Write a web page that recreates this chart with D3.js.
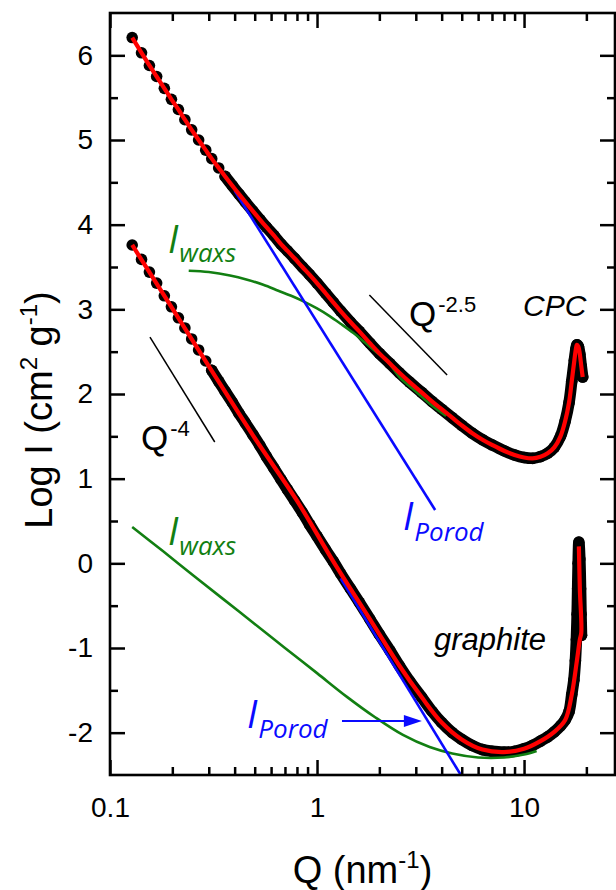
<!DOCTYPE html>
<html><head><meta charset="utf-8">
<script src="https://cdn.jsdelivr.net/npm/d3@7/dist/d3.min.js"></script>
<style>body{margin:0;background:#fff;} svg{display:block;}</style>
</head><body>
<svg id="chart" width="616" height="890"></svg>
<script>
// ---------- data (Q in nm^-1, log10 I) ----------
const cpcQ    = [0.128,0.142,0.155,0.168,0.183,0.198,0.214,0.230,0.248,0.268,0.29,0.31,0.335,0.36,0.39,0.42,0.45,0.49,0.53,0.57,0.62,0.67,0.72,0.78,0.85,0.92,1.0,1.1,1.2,1.3,1.45,1.6,1.8,2.0,2.25,2.5,2.8,3.2,3.6,4.0,4.5,5.0,5.6,6.3,7.0,8.0,9.0,10.0,11.0,12.0,13.0,14.0,15.0,15.8,16.5,17.0,17.5,17.8,18.0,18.3,18.6,18.9,19.2];
const cpcLogI = [6.21,6.03,5.88,5.75,5.61,5.48,5.36,5.24,5.12,5.00,4.88,4.78,4.67,4.57,4.46,4.36,4.27,4.16,4.06,3.97,3.87,3.77,3.69,3.60,3.50,3.41,3.31,3.19,3.08,2.98,2.85,2.74,2.60,2.48,2.36,2.25,2.14,2.02,1.91,1.82,1.72,1.63,1.54,1.46,1.40,1.33,1.28,1.25,1.24,1.26,1.30,1.37,1.50,1.68,1.90,2.15,2.40,2.53,2.58,2.56,2.47,2.33,2.20];

const graQ    = [0.128,0.142,0.155,0.168,0.183,0.198,0.214,0.230,0.248,0.268,0.29,0.31,0.335,0.36,0.39,0.42,0.45,0.49,0.53,0.57,0.62,0.67,0.72,0.78,0.85,0.92,1.0,1.1,1.2,1.3,1.45,1.6,1.8,2.0,2.25,2.5,2.8,3.2,3.6,4.0,4.5,5.0,5.6,6.3,7.0,8.0,9.0,10.0,11.0,12.0,13.0,14.0,15.0,15.8,16.5,17.0,17.4,17.7,17.9,18.05,18.15,18.25,18.4,18.6,18.75,18.85,18.95];
const graLogI = [3.76,3.59,3.44,3.31,3.16,3.03,2.90,2.78,2.65,2.52,2.39,2.28,2.15,2.03,1.90,1.77,1.66,1.52,1.39,1.26,1.12,0.99,0.87,0.74,0.60,0.46,0.32,0.16,0.02,-0.12,-0.30,-0.46,-0.66,-0.84,-1.03,-1.21,-1.39,-1.58,-1.75,-1.88,-2.00,-2.08,-2.15,-2.20,-2.22,-2.23,-2.22,-2.19,-2.15,-2.10,-2.05,-1.99,-1.92,-1.85,-1.75,-1.55,-1.38,-1.15,-0.90,-0.60,-0.30,0.00,0.25,0.05,-0.30,-0.60,-0.85];

const graFitQ    = [0.128,0.2,0.3,0.5,0.8,1.2,1.8,2.5,3.2,4.0,5.0,6.3,8.0,10.0,12.0,14.0,15.8,17.0,18.0,18.6,18.9,18.6,18.4];
const graFitLogI = [3.76,3.01,2.33,1.48,0.74,0.02,-0.66,-1.21,-1.58,-1.88,-2.08,-2.20,-2.23,-2.19,-2.10,-1.99,-1.85,-1.55,-1.15,-0.90,-0.82,-0.30,0.20];

const cpcWaxsQ    = [0.24,0.30,0.38,0.46,0.55,0.65,0.75,0.85,1.0,1.15,1.3,1.5,1.7,1.9,2.2,2.5,3.0,3.6,4.2];
const cpcWaxsLogI = [3.455,3.44,3.40,3.35,3.29,3.22,3.16,3.10,3.01,2.92,2.83,2.72,2.61,2.51,2.38,2.20,2.03,1.86,1.74];

const graWaxsQ    = [0.128,0.18,0.25,0.35,0.5,0.7,1.0,1.4,1.9,2.6,3.5,4.5,6.0,8.0,10.0,11.5];
const graWaxsLogI = [0.43,0.145,-0.135,-0.417,-0.716,-0.999,-1.297,-1.58,-1.815,-2.027,-2.17,-2.246,-2.293,-2.293,-2.258,-2.216];

const cpcPorodQ    = [0.40, 3.72];
const cpcPorodLogI = [4.40, 0.63];
const graPorodQ    = [1.3, 4.95];
const graPorodLogI = [-0.177, -2.5];

const guide25Q = [1.79, 4.25],  guide25LogI = [3.17, 2.225];
const guide4Q  = [0.156, 0.3206], guide4LogI = [2.673, 1.433];
const arrowQ = [1.32, 3.21], arrowLogI = [-1.862, -1.862];

const xMajor = [0.1, 1, 10];
const xMajorLabels = ["0.1", "1", "10"];
const xMinor = [0.2,0.3,0.4,0.5,0.6,0.7,0.8,0.9,2,3,4,5,6,7,8,9,20];
const yMajor = [-2,-1,0,1,2,3,4,5,6];
const yMajorLabels = ["-2","-1","0","1","2","3","4","5","6"];
const yMinor = [-1.5,-0.5,0.5,1.5,2.5,3.5,4.5,5.5];

// ---------- drawing ----------
const svg = d3.select("#chart");
const L = 110, R = 615, T = 13, B = 775;
const x = d3.scaleLog().domain([0.1, 27.5]).range([L, R]);
const y = d3.scaleLinear().domain([-2.5, 6.5]).range([B, T]);

const RED = "#ff0000", BLUE = "#0a0aff", GREEN = "#127f12";
const pts = (qs, ls) => qs.map((q, i) => [q, ls[i]]);
const line = d3.line().x(d => x(d[0])).y(d => y(d[1]));
const smooth = d3.line().x(d => x(d[0])).y(d => y(d[1])).curve(d3.curveCatmullRom.alpha(0.5));

svg.append("clipPath").attr("id", "clip").append("rect")
  .attr("x", L).attr("y", T).attr("width", R - L).attr("height", B - T);
const plot = svg.append("g").attr("clip-path", "url(#clip)");

function dataSeries(qs, ls, denseFrom) {
  const p = pts(qs, ls);
  plot.append("path").datum(p.filter(d => d[0] >= denseFrom))
    .attr("d", smooth).attr("fill", "none").attr("stroke", "#000")
    .attr("stroke-width", 11.5).attr("stroke-linejoin", "round").attr("stroke-linecap", "round");
  plot.append("g").selectAll("circle").data(p).join("circle")
    .attr("cx", d => x(d[0])).attr("cy", d => y(d[1])).attr("r", 5.8).attr("fill", "#000");
}
dataSeries(cpcQ, cpcLogI, 0.36);
dataSeries(graQ, graLogI, 0.31);

// model components
plot.append("path").datum(pts(cpcWaxsQ, cpcWaxsLogI)).attr("d", smooth)
  .attr("fill", "none").attr("stroke", GREEN).attr("stroke-width", 2.6);
plot.append("path").datum(pts(graWaxsQ, graWaxsLogI)).attr("d", smooth)
  .attr("fill", "none").attr("stroke", GREEN).attr("stroke-width", 2.6);
plot.append("path").datum(pts(cpcPorodQ, cpcPorodLogI)).attr("d", line)
  .attr("fill", "none").attr("stroke", BLUE).attr("stroke-width", 2.6);
plot.append("path").datum(pts(graPorodQ, graPorodLogI)).attr("d", line)
  .attr("fill", "none").attr("stroke", BLUE).attr("stroke-width", 2.6);

// fits
plot.append("path").datum(pts(cpcQ, cpcLogI)).attr("d", smooth)
  .attr("fill", "none").attr("stroke", RED).attr("stroke-width", 4.2).attr("stroke-linejoin", "round");
plot.append("path").datum(pts(graFitQ, graFitLogI)).attr("d", smooth)
  .attr("fill", "none").attr("stroke", RED).attr("stroke-width", 4.2).attr("stroke-linejoin", "round");

// guide lines
[[guide25Q, guide25LogI], [guide4Q, guide4LogI]].forEach(([q, l]) => {
  plot.append("path").datum(pts(q, l)).attr("d", line)
    .attr("stroke", "#000").attr("stroke-width", 1.5).attr("fill", "none");
});

// arrow
const ap = pts(arrowQ, arrowLogI);
svg.append("line").attr("x1", x(ap[0][0])).attr("y1", y(ap[0][1]))
  .attr("x2", x(ap[1][0]) - 14).attr("y2", y(ap[1][1]))
  .attr("stroke", BLUE).attr("stroke-width", 2);
svg.append("path")
  .attr("d", `M${x(ap[1][0])},${y(ap[1][1])} l-18,-6 l0,12 z`).attr("fill", BLUE);

// ---------- axes ----------
const AF = "Liberation Sans, Arial, sans-serif";
const axG = svg.append("g");
function addAxis(axis, tr, vals, size, labels) {
  const g = axG.append("g").attr("transform", tr)
    .call(axis.tickValues(vals).tickSize(-size).tickSizeOuter(0)
      .tickFormat(labels ? (d, i) => labels[i] : () => ""));
  g.select(".domain").remove();
  g.selectAll(".tick line").attr("stroke", "#000").attr("stroke-width", 2.5);
  return g;
}
addAxis(d3.axisBottom(x), `translate(0,${B})`, xMajor, 15, xMajorLabels)
  .call(a => a.selectAll("text").attr("y", 0).attr("dy", "1.5em"));
addAxis(d3.axisBottom(x), `translate(0,${B})`, xMinor, 8);
addAxis(d3.axisTop(x), `translate(0,${T})`, xMajor, 15);
addAxis(d3.axisTop(x), `translate(0,${T})`, xMinor, 8);
addAxis(d3.axisLeft(y), `translate(${L},0)`, yMajor, 15, yMajorLabels)
  .call(a => a.selectAll("text").attr("x", -17));
addAxis(d3.axisLeft(y), `translate(${L},0)`, yMinor, 8);
addAxis(d3.axisRight(y), `translate(${R},0)`, yMajor, 15);
addAxis(d3.axisRight(y), `translate(${R},0)`, yMinor, 8);
axG.selectAll("text").attr("font-family", AF).attr("font-size", 28).attr("fill", "#000");

svg.append("rect").attr("x", L).attr("y", T).attr("width", R - L).attr("height", B - T)
  .attr("fill", "none").attr("stroke", "#000").attr("stroke-width", 2.6);

// axis titles
const xt = svg.append("text").attr("x", (L + R) / 2).attr("y", 883).attr("text-anchor", "middle")
  .attr("font-family", AF).attr("font-size", 38);
xt.append("tspan").text("Q (nm");
xt.append("tspan").attr("font-size", 24).attr("dy", -15).text("-1");
xt.append("tspan").attr("dy", 15).text(")");

const yt = svg.append("text").attr("transform", "translate(52,410) rotate(-90)").attr("text-anchor", "middle")
  .attr("font-family", AF).attr("font-size", 38);
yt.append("tspan").text("Log I (cm");
yt.append("tspan").attr("font-size", 24).attr("dy", -15).text("2");
yt.append("tspan").attr("dy", 15).text(" g");
yt.append("tspan").attr("font-size", 24).attr("dy", -15).text("-1");
yt.append("tspan").attr("dy", 15).text(")");

// annotations
const OF = "Open Sans, Noto Sans, sans-serif";
function subLabel(px, py, big, sub, color, dy) {
  const t = svg.append("text").attr("x", px).attr("y", py).attr("font-family", OF)
    .attr("font-style", "italic").attr("fill", color).attr("font-size", 38);
  t.append("tspan").text(big);
  t.append("tspan").attr("font-size", 26).attr("dy", dy).attr("dx", 1).text(sub);
}
subLabel(168, 253, "I", "waxs", GREEN, 9);
subLabel(168, 545, "I", "waxs", GREEN, 10);
subLabel(403, 530, "I", "Porod", BLUE, 11);
subLabel(247, 728, "I", "Porod", BLUE, 10);

function powLabel(px, py, sup) {
  const t = svg.append("text").attr("x", px).attr("y", py).attr("font-family", AF).attr("font-size", 35);
  t.append("tspan").text("Q");
  t.append("tspan").attr("font-size", 22).attr("dy", -14).attr("dx", 2).text(sup);
}
powLabel(409, 326, "-2.5");
powLabel(141, 450, "-4");

svg.append("text").attr("x", 523).attr("y", 316).attr("font-family", AF).attr("font-style", "italic")
  .attr("font-size", 30).text("CPC");
svg.append("text").attr("x", 434).attr("y", 650).attr("font-family", AF).attr("font-style", "italic")
  .attr("font-size", 31).text("graphite");
</script>
</body></html>
